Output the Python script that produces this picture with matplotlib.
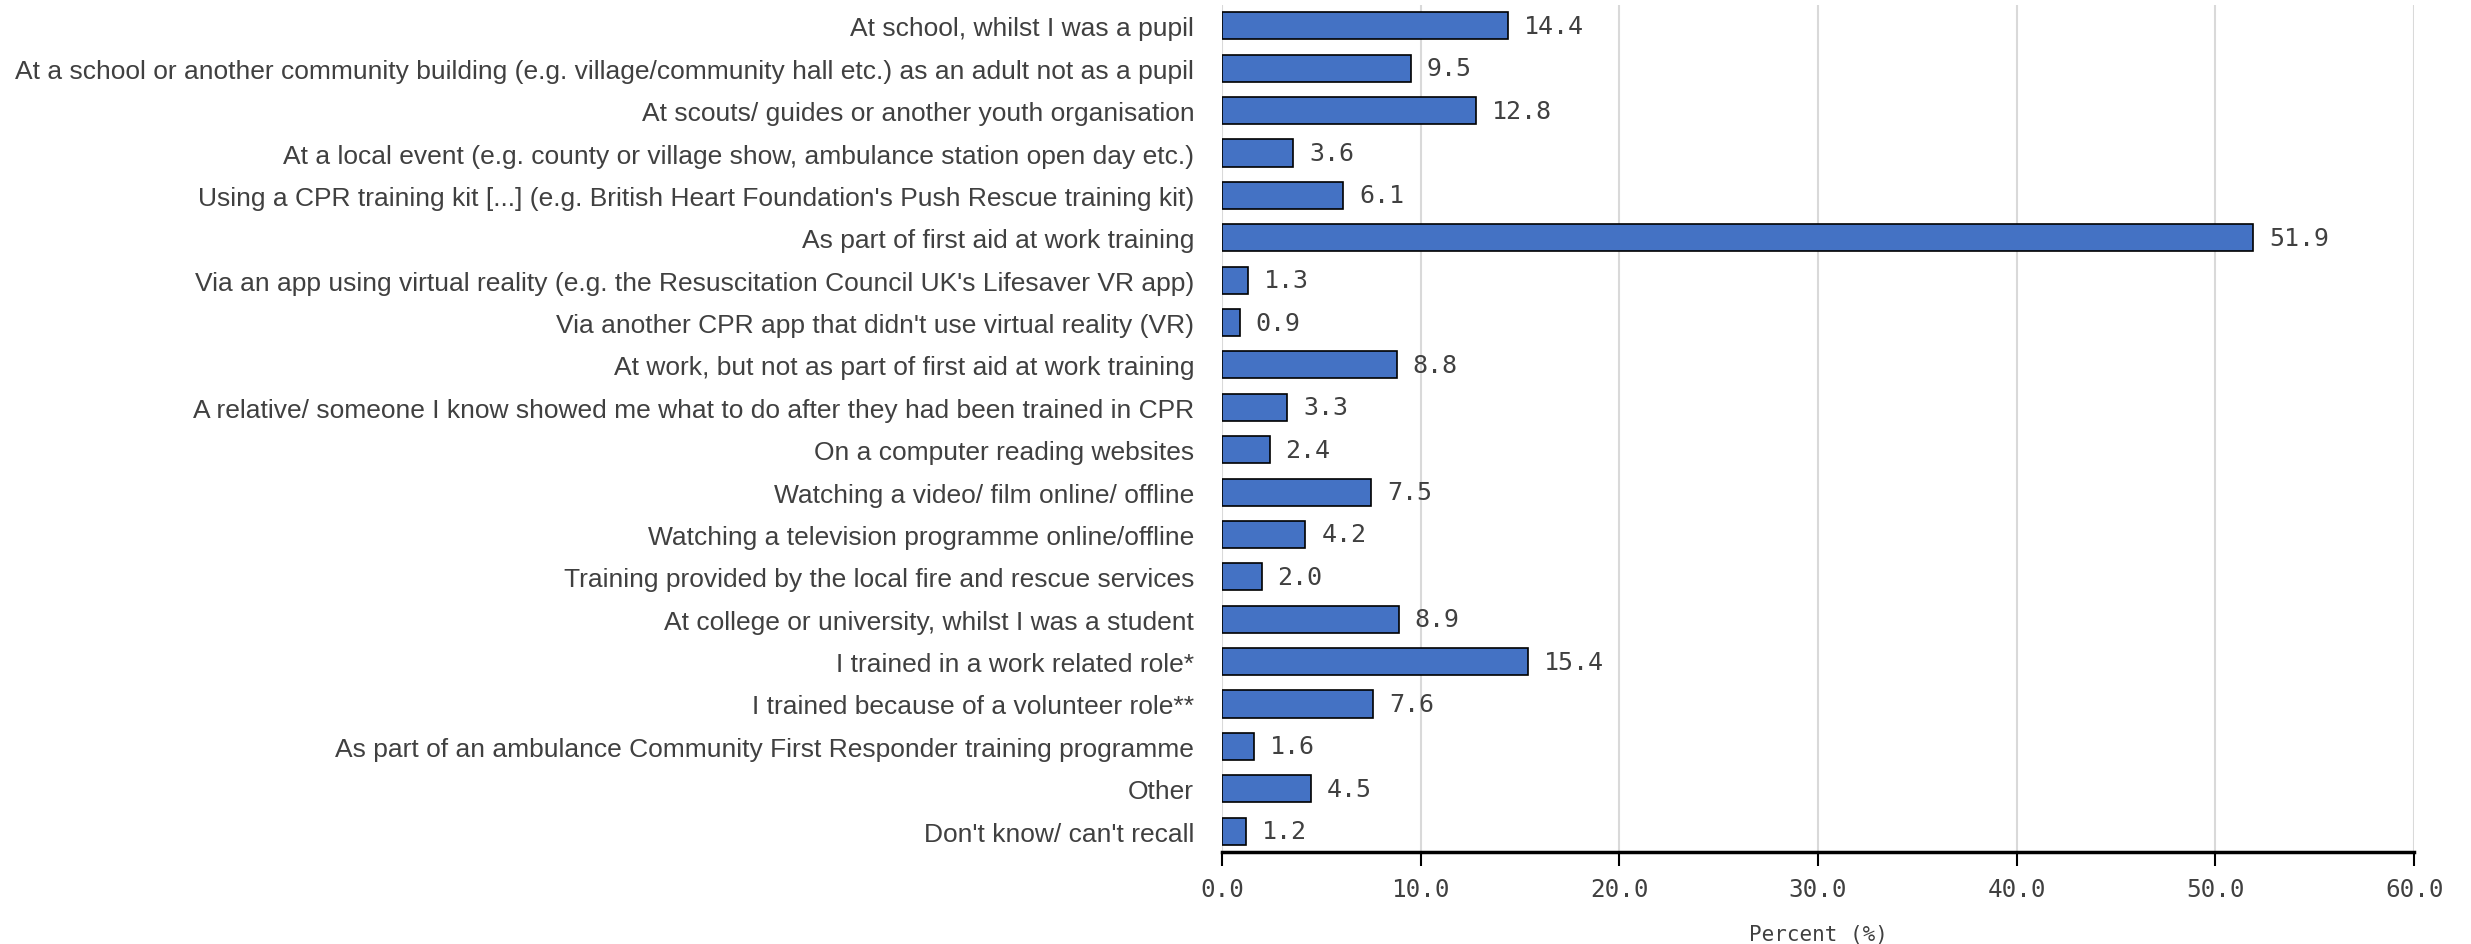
import matplotlib
matplotlib.use("Agg")
from matplotlib import pyplot as plt

categories = [
    "At school, whilst I was a pupil",
    "At a school or another community building (e.g. village/community hall etc.) as an adult not as a pupil",
    "At scouts/ guides or another youth organisation",
    "At a local event (e.g. county or village show, ambulance station open day etc.)",
    "Using a CPR training kit [...] (e.g. British Heart Foundation's Push Rescue training kit)",
    "As part of first aid at work training",
    "Via an app using virtual reality (e.g. the Resuscitation Council UK's Lifesaver VR app)",
    "Via another CPR app that didn't use virtual reality (VR)",
    "At work, but not as part of first aid at work training",
    "A relative/ someone I know showed me what to do after they had been trained in CPR",
    "On a computer reading websites",
    "Watching a video/ film online/ offline",
    "Watching a television programme online/offline",
    "Training provided by the local fire and rescue services",
    "At college or university, whilst I was a student",
    "I trained in a work related role*",
    "I trained because of a volunteer role**",
    "As part of an ambulance Community First Responder training programme",
    "Other",
    "Don't know/ can't recall",
]
percent = [14.4, 9.5, 12.8, 3.6, 6.1, 51.9, 1.3, 0.9, 8.8, 3.3,
           2.4, 7.5, 4.2, 2.0, 8.9, 15.4, 7.6, 1.6, 4.5, 1.2]
xticks = [0, 10, 20, 30, 40, 50, 60]

label_font = "Liberation Sans"
num_font = "DejaVu Sans Mono"
grey = "#404040"


def main():
    fig = plt.figure(figsize=(24.71, 9.45), dpi=100)
    ax = fig.add_axes([0.4945, 0.097, 0.4825, 0.897])

    y = list(range(len(categories)))
    ax.barh(y, percent, height=0.64, color="#4472C4", edgecolor="black", linewidth=1.2, zorder=3)
    for yi, v in zip(y, percent):
        ax.text(v + 0.8, yi, f"{v:.1f}", va="center", ha="left",
                fontsize=18, family=num_font, color=grey)

    ax.set_ylim(len(categories) - 0.5, -0.5)
    ax.set_xlim(0, 60)
    ax.set_yticks(y)
    ax.set_yticklabels(categories, fontsize=19, family=label_font, color=grey)
    ax.set_xticks(xticks)
    ax.set_xticklabels([f"{t:.1f}" for t in xticks], fontsize=17.5, family=num_font, color=grey)
    ax.tick_params(axis="y", length=0, pad=20)
    ax.tick_params(axis="x", length=10, width=1.5, direction="out", pad=8, color="black")
    ax.grid(axis="x", color="#d9d9d9", linewidth=1.5, zorder=0)
    for s in ["top", "right", "left"]:
        ax.spines[s].set_visible(False)
    ax.spines["bottom"].set_linewidth(2.5)
    ax.set_xlabel("Percent (%)", fontsize=15, family=num_font, color=grey, labelpad=16)

    fig.savefig("out.png", dpi=100)


if __name__ == '__main__':
    main()
